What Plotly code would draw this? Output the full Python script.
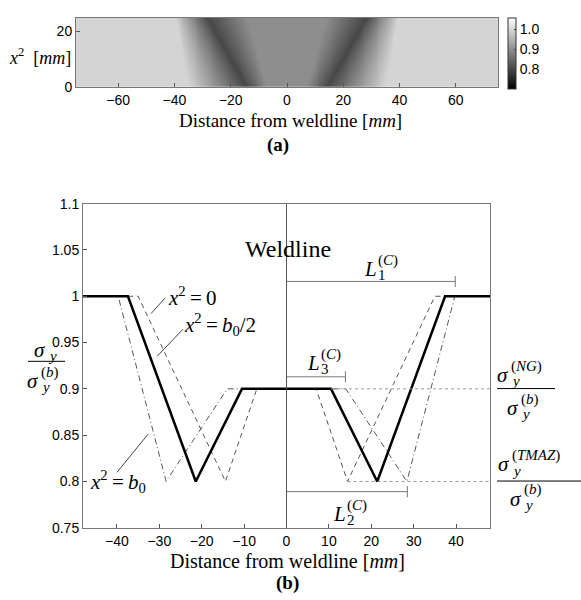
import numpy as np
import plotly.graph_objects as go

W, H = 581, 600
SERIF = "Liberation Serif"
SANS = "Liberation Sans"

# Yield-strength ratio levels at the profile breakpoints
levels = [1.0, 1.0, 0.8, 0.9, 0.9, 0.8, 1.0, 1.0]
# Breakpoint positions (mm from weldline) at three depths x^2
x_depth0 = [-48, -35.0, -14.4, -7.0, 7.0, 14.4, 35.0, 48]      # x^2 = 0
x_depth_half = [-48, -37.4, -21.4, -10.5, 10.5, 21.4, 37.4, 48]  # x^2 = b0/2
x_depth_b0 = [-48, -39.7, -28.4, -14.0, 14.0, 28.4, 39.7, 48]   # x^2 = b0
b0 = 25.0

# Dimension brackets: (length, height) in data units
L1 = (39.8, 1.016)
L2 = (28.5, 0.789)
L3 = (13.9, 0.913)

x_ticks_a = [-60, -40, -20, 0, 20, 40, 60]
y_ticks_a = [0, 20]
x_ticks_b = [-40, -30, -20, -10, 0, 10, 20, 30, 40]
y_ticks_b = [0.75, 0.8, 0.85, 0.9, 0.95, 1.0, 1.05, 1.1]
cbar_ticks = [0.8, 0.9, 1.0]

# ---- field for panel (a): profile breakpoints shift linearly with depth ----
xgrid = np.linspace(-75, 75, 451)
depths = np.linspace(0, b0, 76)
p0, ph, pb = map(np.array, (x_depth0, x_depth_half, x_depth_b0))
z = []
for d in depths:
    t = d / b0
    if t <= 0.5:
        bp = p0 + (ph - p0) * (2 * t)
    else:
        bp = ph + (pb - ph) * (2 * t - 1)
    z.append(np.interp(xgrid, bp, levels))
z = np.array(z)

fig = go.Figure()
fig.add_trace(go.Heatmap(
    x=xgrid, y=depths, z=z, xaxis="x", yaxis="y",
    colorscale=[[0, "black"], [1, "white"]], zmin=0.70, zmax=1.06,
    colorbar=dict(x=508 / W, xanchor="left", xpad=0, y=1 - 10 / H, yanchor="top",
                  ypad=0, len=71, lenmode="pixels", thickness=8, thicknessmode="pixels",
                  outlinecolor="#333", outlinewidth=1, tickvals=cbar_ticks,
                  tickformat=".1f", ticks="inside", ticklen=2,
                  tickfont=dict(family=SANS, size=14, color="black")),
    hoverinfo="skip",
))

line_kw = dict(xaxis="x2", yaxis="y2", mode="lines", hoverinfo="skip", showlegend=False)
fig.add_trace(go.Scatter(x=x_depth0, y=levels, line=dict(color="#555", width=1, dash="5px,4px"), **line_kw))
fig.add_trace(go.Scatter(x=x_depth_b0, y=levels, line=dict(color="#555", width=1, dash="6px,3px,1px,3px"), **line_kw))
fig.add_trace(go.Scatter(x=x_depth_half, y=levels, line=dict(color="black", width=2.5), **line_kw))

axis_common = dict(showgrid=False, zeroline=False, showline=True, mirror=True,
                   linecolor="#777", linewidth=1, ticks="inside", ticklen=4,
                   tickcolor="#555", tickfont=dict(family=SANS, size=14, color="black"))

fig.update_layout(
    width=W, height=H, margin=dict(l=0, r=0, t=0, b=0),
    paper_bgcolor="white", plot_bgcolor="white", showlegend=False,
    xaxis=dict(domain=[76 / W, 498 / W], range=[-75, 75], tickvals=x_ticks_a,
               anchor="y", **axis_common),
    yaxis=dict(domain=[1 - 81 / H, 1 - 10 / H], range=[0, 25], tickvals=y_ticks_a,
               anchor="x", **axis_common),
    xaxis2=dict(domain=[83 / W, 490 / W], range=[-48, 48], tickvals=x_ticks_b,
                anchor="y2", **axis_common),
    yaxis2=dict(domain=[1 - 534 / H, 1 - 201 / H], range=[0.75, 1.1], tickvals=y_ticks_b,
                anchor="x2", **axis_common),
)

shapes = []
annotations = []


def P(px, py):
    return px / W, 1 - py / H


def txt(px, py, text, size=18, xanchor="center", family=SERIF):
    x, y = P(px, py)
    annotations.append(dict(x=x, y=y, xref="paper", yref="paper", text=text,
                            showarrow=False, xanchor=xanchor, yanchor="middle",
                            font=dict(size=size, family=family, color="black")))


def sym(cx, cy, base, sup=None, sub=None, fs=21, ratio=0.72):
    """Italic symbol with stacked superscript and subscript."""
    txt(cx, cy, f"<i>{base}</i>", fs)
    o = 0.28 * fs
    if sup:
        txt(cx + o, cy - 0.42 * fs, sup, round(ratio * fs), xanchor="left")
    if sub:
        txt(cx + o, cy + 0.3 * fs, sub, round(ratio * fs), xanchor="left")


def pline(x0, y0, x1, y1, color="black", width=1, dash=None):
    a0, b0_ = P(x0, y0)
    a1, b1 = P(x1, y1)
    shapes.append(dict(type="line", xref="paper", yref="paper", x0=a0, y0=b0_, x1=a1, y1=b1,
                       line=dict(color=color, width=width, dash=dash)))


def dline(x0, y0, x1, y1, color="#777", width=1, dash=None):
    shapes.append(dict(type="line", xref="x2", yref="y2", x0=x0, y0=y0, x1=x1, y1=y1,
                       line=dict(color=color, width=width, dash=dash)))


# ---- panel (a) labels ----
txt(290, 116, "Distance from weldline [<i>mm</i>]", 19)
txt(278, 141, "<b>(a)</b>", 19)
txt(40, 50, "<i>x</i><sup>2</sup>  [<i>mm</i>]", 18)

# ---- panel (b) ----
# weldline
dline(0, 0.75, 0, 1.1, color="#555")
txt(288, 248, "Weldline", 24)

# reference levels
dline(x_depth_half[4], 0.9, 48, 0.9, color="#999", dash="dot")
dline(x_depth0[5], 0.8, 48, 0.8, color="#999", dash="dot")

# dimension brackets
for length, h in (L1, L2, L3):
    dline(0, h, length, h)
    dline(length, h - 0.006, length, h + 0.006)

sym(370, 268, "L", "(<i>C</i>)", "1")
sym(313, 365, "L", "(<i>C</i>)", "3")
sym(339, 520, "L", "(<i>C</i>)", "2")

# depth labels with leader lines
EQ = "&#8201;=&#8201;"
txt(166, 296, f"<i>x</i><sup>2</sup>{EQ}0", 21, xanchor="left")
pline(151, 314, 165, 298, color="#444")
txt(182, 325, f"<i>x</i><sup>2</sup>{EQ}<i>b</i><sub>0</sub>/2", 21, xanchor="left")
pline(157, 358, 183, 330, color="#444")
txt(88, 486, f"<i>x</i><sup>2</sup>{EQ}<i>b</i><sub>0</sub>", 21, xanchor="left")
pline(117, 477, 148, 438, color="#444")

# y-axis label: sigma_y / sigma_y^(b)
sym(40, 351, "σ", None, "<i>y</i>")
pline(28, 363, 65, 363)
sym(33, 383, "σ", "(<i>b</i>)", "<i>y</i>")

# right-hand level labels
sym(503, 377, "σ", "(<i>NG</i>)", "<i>y</i>")
pline(497, 391, 555, 391)
sym(513, 411, "σ", "(<i>b</i>)", "<i>y</i>")

sym(504, 469, "σ", "(<i>TMAZ</i>)", "<i>y</i>")
pline(497, 486, 581, 486)
sym(516, 504, "σ", "(<i>b</i>)", "<i>y</i>")

txt(287, 568, "Distance from weldline [<i>mm</i>]", 20)
txt(287, 591, "<b>(b)</b>", 19)

fig.update_layout(shapes=shapes, annotations=annotations)
fig.write_html("out.html")
